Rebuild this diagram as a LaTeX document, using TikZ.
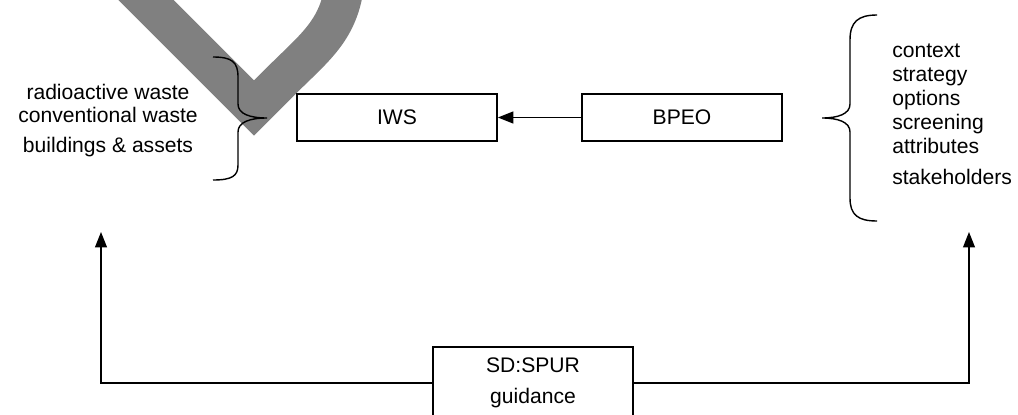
\documentclass[tikz,border=0pt]{standalone}
\usepackage{fontspec}
\setmainfont{Liberation Sans}
\usetikzlibrary{arrows.meta}
\begin{document}
\begin{tikzpicture}[x=0.025cm,y=-0.025cm,
  box/.style={draw,line width=1.2pt,minimum width=5cm,inner sep=0pt},
  conn/.style={line width=0.9pt,-{Triangle[length=11pt,width=8.5pt]}},
  brace/.style={line width=1pt}]
\useasboundingbox (0,0) rectangle (1018,414);
\fontsize{15}{15.6}\selectfont
\draw[gray,line width=0.975cm,line join=miter] (110,-36) -- (254,108) -- (280,82) .. controls (318,44) and (343,28) .. (346,-30);
\node[box,minimum height=1.175cm] (iws) at (397,117.5) {IWS};
\node[box,minimum height=1.175cm] (bpeo) at (682,117.5) {BPEO};
\node[box,minimum height=1.8cm,align=center] (spur) at (533,383) {SD:SPUR\\[6pt]guidance};
\node[align=center,inner sep=0pt,font=\fontsize{15}{16.3}\selectfont] (waste) at (108,120.5) {radioactive waste\\conventional waste\\[5pt]buildings \& assets};
\node[align=left,anchor=west,inner sep=0pt,font=\fontsize{15}{17}\selectfont] (steps) at (892,114.5) {context\\strategy\\options\\screening\\attributes\\[5.7pt]stakeholders};
\draw[brace] (213,57) .. controls (232,57) and (238,62) .. (238,77) -- (238,104) .. controls (238,114) and (250,118) .. (267,118) .. controls (250,118) and (238,122) .. (238,132) -- (238,165) .. controls (238,176) and (232,180) .. (213,180);
\draw[brace] (877,15) .. controls (858,15) and (850,22) .. (850,40) -- (850,104) .. controls (850,114) and (838,118) .. (822,118) .. controls (838,118) and (850,122) .. (850,132) -- (850,198) .. controls (850,215) and (858,221) .. (877,221);
\coordinate (lefttip) at (101,232);
\coordinate (righttip) at (969,232);
\draw[conn] (bpeo) -- (iws);
\draw[conn] (spur.west) -| (lefttip);
\draw[conn] (spur.east) -| (righttip);
\end{tikzpicture}
\end{document}
